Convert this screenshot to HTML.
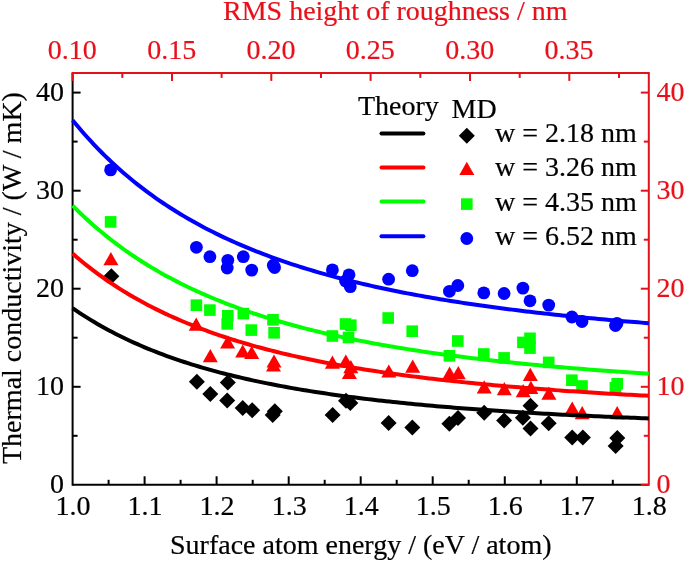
<!DOCTYPE html>
<html><head><meta charset="utf-8"><style>
html,body{margin:0;padding:0;background:#fff;}
svg{display:block;filter:blur(0.3px);}
text{font-family:"Liberation Serif",serif;font-size:28px;fill:#000;stroke:#000;stroke-width:0.2px;}
text.r{fill:#e8101a;stroke:#e8101a;}
</style></head><body>
<svg width="685" height="561" viewBox="0 0 685 561">
<rect width="685" height="561" fill="#fff"/>
<line x1="72.6" y1="484.8" x2="648.8" y2="484.8" stroke="#000" stroke-width="2"/>
<line x1="72.6" y1="72.9" x2="72.6" y2="485.8" stroke="#000" stroke-width="2"/>
<line x1="71.6" y1="72.9" x2="649.8" y2="72.9" stroke="#e3121a" stroke-width="2"/>
<line x1="648.8" y1="72.9" x2="648.8" y2="485.8" stroke="#e3121a" stroke-width="2"/>
<line x1="108.6" y1="484.8" x2="108.6" y2="479.8" stroke="#000" stroke-width="2"/>
<line x1="144.6" y1="484.8" x2="144.6" y2="476.3" stroke="#000" stroke-width="2"/>
<line x1="180.6" y1="484.8" x2="180.6" y2="479.8" stroke="#000" stroke-width="2"/>
<line x1="216.6" y1="484.8" x2="216.6" y2="476.3" stroke="#000" stroke-width="2"/>
<line x1="252.7" y1="484.8" x2="252.7" y2="479.8" stroke="#000" stroke-width="2"/>
<line x1="288.7" y1="484.8" x2="288.7" y2="476.3" stroke="#000" stroke-width="2"/>
<line x1="324.7" y1="484.8" x2="324.7" y2="479.8" stroke="#000" stroke-width="2"/>
<line x1="360.7" y1="484.8" x2="360.7" y2="476.3" stroke="#000" stroke-width="2"/>
<line x1="396.7" y1="484.8" x2="396.7" y2="479.8" stroke="#000" stroke-width="2"/>
<line x1="432.7" y1="484.8" x2="432.7" y2="476.3" stroke="#000" stroke-width="2"/>
<line x1="468.7" y1="484.8" x2="468.7" y2="479.8" stroke="#000" stroke-width="2"/>
<line x1="504.8" y1="484.8" x2="504.8" y2="476.3" stroke="#000" stroke-width="2"/>
<line x1="540.8" y1="484.8" x2="540.8" y2="479.8" stroke="#000" stroke-width="2"/>
<line x1="576.8" y1="484.8" x2="576.8" y2="476.3" stroke="#000" stroke-width="2"/>
<line x1="612.8" y1="484.8" x2="612.8" y2="479.8" stroke="#000" stroke-width="2"/>
<line x1="648.8" y1="484.8" x2="640.8" y2="484.8" stroke="#e3121a" stroke-width="2"/>
<line x1="72.6" y1="435.8" x2="77.6" y2="435.8" stroke="#000" stroke-width="2"/>
<line x1="648.8" y1="435.8" x2="643.8" y2="435.8" stroke="#e3121a" stroke-width="2"/>
<line x1="72.6" y1="386.8" x2="80.6" y2="386.8" stroke="#000" stroke-width="2"/>
<line x1="648.8" y1="386.8" x2="640.8" y2="386.8" stroke="#e3121a" stroke-width="2"/>
<line x1="72.6" y1="337.7" x2="77.6" y2="337.7" stroke="#000" stroke-width="2"/>
<line x1="648.8" y1="337.7" x2="643.8" y2="337.7" stroke="#e3121a" stroke-width="2"/>
<line x1="72.6" y1="288.7" x2="80.6" y2="288.7" stroke="#000" stroke-width="2"/>
<line x1="648.8" y1="288.7" x2="640.8" y2="288.7" stroke="#e3121a" stroke-width="2"/>
<line x1="72.6" y1="239.7" x2="77.6" y2="239.7" stroke="#000" stroke-width="2"/>
<line x1="648.8" y1="239.7" x2="643.8" y2="239.7" stroke="#e3121a" stroke-width="2"/>
<line x1="72.6" y1="190.7" x2="80.6" y2="190.7" stroke="#000" stroke-width="2"/>
<line x1="648.8" y1="190.7" x2="640.8" y2="190.7" stroke="#e3121a" stroke-width="2"/>
<line x1="72.6" y1="141.6" x2="77.6" y2="141.6" stroke="#000" stroke-width="2"/>
<line x1="648.8" y1="141.6" x2="643.8" y2="141.6" stroke="#e3121a" stroke-width="2"/>
<line x1="72.6" y1="92.6" x2="80.6" y2="92.6" stroke="#000" stroke-width="2"/>
<line x1="648.8" y1="92.6" x2="640.8" y2="92.6" stroke="#e3121a" stroke-width="2"/>
<line x1="72.6" y1="72.9" x2="72.6" y2="80.9" stroke="#e3121a" stroke-width="2"/>
<line x1="122.3" y1="72.9" x2="122.3" y2="77.9" stroke="#e3121a" stroke-width="2"/>
<line x1="172.0" y1="72.9" x2="172.0" y2="80.9" stroke="#e3121a" stroke-width="2"/>
<line x1="221.6" y1="72.9" x2="221.6" y2="77.9" stroke="#e3121a" stroke-width="2"/>
<line x1="271.3" y1="72.9" x2="271.3" y2="80.9" stroke="#e3121a" stroke-width="2"/>
<line x1="321.0" y1="72.9" x2="321.0" y2="77.9" stroke="#e3121a" stroke-width="2"/>
<line x1="370.6" y1="72.9" x2="370.6" y2="80.9" stroke="#e3121a" stroke-width="2"/>
<line x1="420.3" y1="72.9" x2="420.3" y2="77.9" stroke="#e3121a" stroke-width="2"/>
<line x1="470.0" y1="72.9" x2="470.0" y2="80.9" stroke="#e3121a" stroke-width="2"/>
<line x1="519.7" y1="72.9" x2="519.7" y2="77.9" stroke="#e3121a" stroke-width="2"/>
<line x1="569.3" y1="72.9" x2="569.3" y2="80.9" stroke="#e3121a" stroke-width="2"/>
<line x1="619.0" y1="72.9" x2="619.0" y2="77.9" stroke="#e3121a" stroke-width="2"/>
<path d="M111.4 268.3L119.4 276.3L111.4 284.3L103.4 276.3Z" fill="#000000"/>
<path d="M196.9 373.7L204.9 381.7L196.9 389.7L188.9 381.7Z" fill="#000000"/>
<path d="M210.3 385.9L218.3 393.9L210.3 401.9L202.3 393.9Z" fill="#000000"/>
<path d="M227.8 374.6L235.8 382.6L227.8 390.6L219.8 382.6Z" fill="#000000"/>
<path d="M227.2 392.6L235.2 400.6L227.2 408.6L219.2 400.6Z" fill="#000000"/>
<path d="M242.7 400.1L250.7 408.1L242.7 416.1L234.7 408.1Z" fill="#000000"/>
<path d="M252.2 402.3L260.2 410.3L252.2 418.3L244.2 410.3Z" fill="#000000"/>
<path d="M274.8 403.3L282.8 411.3L274.8 419.3L266.8 411.3Z" fill="#000000"/>
<path d="M272.7 406.9L280.7 414.9L272.7 422.9L264.7 414.9Z" fill="#000000"/>
<path d="M332.6 407.1L340.6 415.1L332.6 423.1L324.6 415.1Z" fill="#000000"/>
<path d="M346.0 392.7L354.0 400.7L346.0 408.7L338.0 400.7Z" fill="#000000"/>
<path d="M350.3 395.0L358.3 403.0L350.3 411.0L342.3 403.0Z" fill="#000000"/>
<path d="M388.6 414.9L396.6 422.9L388.6 430.9L380.6 422.9Z" fill="#000000"/>
<path d="M412.3 419.4L420.3 427.4L412.3 435.4L404.3 427.4Z" fill="#000000"/>
<path d="M449.4 415.8L457.4 423.8L449.4 431.8L441.4 423.8Z" fill="#000000"/>
<path d="M458.0 410.1L466.0 418.1L458.0 426.1L450.0 418.1Z" fill="#000000"/>
<path d="M484.2 404.8L492.2 412.8L484.2 420.8L476.2 412.8Z" fill="#000000"/>
<path d="M504.1 412.4L512.1 420.4L504.1 428.4L496.1 420.4Z" fill="#000000"/>
<path d="M522.9 409.8L530.9 417.8L522.9 425.8L514.9 417.8Z" fill="#000000"/>
<path d="M530.5 397.7L538.5 405.7L530.5 413.7L522.5 405.7Z" fill="#000000"/>
<path d="M530.5 420.5L538.5 428.5L530.5 436.5L522.5 428.5Z" fill="#000000"/>
<path d="M548.7 415.3L556.7 423.3L548.7 431.3L540.7 423.3Z" fill="#000000"/>
<path d="M572.2 429.4L580.2 437.4L572.2 445.4L564.2 437.4Z" fill="#000000"/>
<path d="M582.9 429.4L590.9 437.4L582.9 445.4L574.9 437.4Z" fill="#000000"/>
<path d="M617.3 429.9L625.3 437.9L617.3 445.9L609.3 437.9Z" fill="#000000"/>
<path d="M615.6 438.0L623.6 446.0L615.6 454.0L607.6 446.0Z" fill="#000000"/>
<path d="M110.9 252.1L118.4 265.3L103.4 265.3Z" fill="#ff0000"/>
<path d="M196.2 317.6L203.7 330.8L188.7 330.8Z" fill="#ff0000"/>
<path d="M210.3 349.0L217.8 362.2L202.8 362.2Z" fill="#ff0000"/>
<path d="M227.6 335.4L235.1 348.6L220.1 348.6Z" fill="#ff0000"/>
<path d="M242.7 344.4L250.2 357.6L235.2 357.6Z" fill="#ff0000"/>
<path d="M251.7 345.8L259.2 359.0L244.2 359.0Z" fill="#ff0000"/>
<path d="M274.0 354.4L281.5 367.6L266.5 367.6Z" fill="#ff0000"/>
<path d="M273.5 358.4L281.0 371.6L266.0 371.6Z" fill="#ff0000"/>
<path d="M332.4 355.6L339.9 368.8L324.9 368.8Z" fill="#ff0000"/>
<path d="M345.8 354.4L353.3 367.6L338.3 367.6Z" fill="#ff0000"/>
<path d="M350.8 360.1L358.3 373.3L343.3 373.3Z" fill="#ff0000"/>
<path d="M349.4 365.8L356.9 379.0L341.9 379.0Z" fill="#ff0000"/>
<path d="M388.8 364.4L396.3 377.6L381.3 377.6Z" fill="#ff0000"/>
<path d="M412.7 359.6L420.2 372.8L405.2 372.8Z" fill="#ff0000"/>
<path d="M449.6 366.5L457.1 379.7L442.1 379.7Z" fill="#ff0000"/>
<path d="M458.3 366.1L465.8 379.3L450.8 379.3Z" fill="#ff0000"/>
<path d="M484.2 380.2L491.7 393.4L476.7 393.4Z" fill="#ff0000"/>
<path d="M504.3 382.0L511.8 395.2L496.8 395.2Z" fill="#ff0000"/>
<path d="M523.2 384.0L530.7 397.2L515.7 397.2Z" fill="#ff0000"/>
<path d="M530.3 367.7L537.8 380.9L522.8 380.9Z" fill="#ff0000"/>
<path d="M530.9 380.7L538.4 393.9L523.4 393.9Z" fill="#ff0000"/>
<path d="M548.9 386.6L556.4 399.8L541.4 399.8Z" fill="#ff0000"/>
<path d="M572.2 401.5L579.7 414.7L564.7 414.7Z" fill="#ff0000"/>
<path d="M582.2 406.0L589.7 419.2L574.7 419.2Z" fill="#ff0000"/>
<path d="M617.2 406.0L624.7 419.2L609.7 419.2Z" fill="#ff0000"/>
<rect x="104.8" y="216.1" width="11.6" height="11.6" fill="#00ff00"/>
<rect x="190.6" y="299.4" width="11.6" height="11.6" fill="#00ff00"/>
<rect x="204.1" y="304.3" width="11.6" height="11.6" fill="#00ff00"/>
<rect x="222.0" y="310.0" width="11.6" height="11.6" fill="#00ff00"/>
<rect x="221.4" y="318.1" width="11.6" height="11.6" fill="#00ff00"/>
<rect x="237.5" y="307.8" width="11.6" height="11.6" fill="#00ff00"/>
<rect x="245.5" y="324.3" width="11.6" height="11.6" fill="#00ff00"/>
<rect x="267.2" y="314.0" width="11.6" height="11.6" fill="#00ff00"/>
<rect x="268.3" y="327.0" width="11.6" height="11.6" fill="#00ff00"/>
<rect x="326.6" y="330.2" width="11.6" height="11.6" fill="#00ff00"/>
<rect x="339.7" y="318.2" width="11.6" height="11.6" fill="#00ff00"/>
<rect x="345.0" y="319.4" width="11.6" height="11.6" fill="#00ff00"/>
<rect x="342.7" y="331.7" width="11.6" height="11.6" fill="#00ff00"/>
<rect x="382.4" y="312.2" width="11.6" height="11.6" fill="#00ff00"/>
<rect x="406.4" y="325.4" width="11.6" height="11.6" fill="#00ff00"/>
<rect x="443.6" y="350.0" width="11.6" height="11.6" fill="#00ff00"/>
<rect x="452.0" y="335.2" width="11.6" height="11.6" fill="#00ff00"/>
<rect x="478.0" y="348.2" width="11.6" height="11.6" fill="#00ff00"/>
<rect x="498.3" y="352.1" width="11.6" height="11.6" fill="#00ff00"/>
<rect x="517.1" y="336.6" width="11.6" height="11.6" fill="#00ff00"/>
<rect x="524.2" y="332.5" width="11.6" height="11.6" fill="#00ff00"/>
<rect x="524.2" y="342.3" width="11.6" height="11.6" fill="#00ff00"/>
<rect x="542.9" y="356.6" width="11.6" height="11.6" fill="#00ff00"/>
<rect x="566.1" y="374.4" width="11.6" height="11.6" fill="#00ff00"/>
<rect x="576.2" y="380.2" width="11.6" height="11.6" fill="#00ff00"/>
<rect x="611.4" y="378.0" width="11.6" height="11.6" fill="#00ff00"/>
<rect x="609.6" y="382.0" width="11.6" height="11.6" fill="#00ff00"/>
<circle cx="110.6" cy="169.9" r="6.4" fill="#0000ff"/>
<circle cx="196.4" cy="247.3" r="6.4" fill="#0000ff"/>
<circle cx="209.9" cy="256.7" r="6.4" fill="#0000ff"/>
<circle cx="227.8" cy="260.3" r="6.4" fill="#0000ff"/>
<circle cx="227.2" cy="268.0" r="6.4" fill="#0000ff"/>
<circle cx="243.3" cy="256.7" r="6.4" fill="#0000ff"/>
<circle cx="251.7" cy="270.1" r="6.4" fill="#0000ff"/>
<circle cx="273.3" cy="265.2" r="6.4" fill="#0000ff"/>
<circle cx="274.6" cy="267.5" r="6.4" fill="#0000ff"/>
<circle cx="332.4" cy="269.9" r="6.4" fill="#0000ff"/>
<circle cx="349.0" cy="274.8" r="6.4" fill="#0000ff"/>
<circle cx="345.5" cy="281.0" r="6.4" fill="#0000ff"/>
<circle cx="350.3" cy="286.7" r="6.4" fill="#0000ff"/>
<circle cx="388.6" cy="279.2" r="6.4" fill="#0000ff"/>
<circle cx="412.3" cy="270.7" r="6.4" fill="#0000ff"/>
<circle cx="449.4" cy="291.3" r="6.4" fill="#0000ff"/>
<circle cx="457.8" cy="285.5" r="6.4" fill="#0000ff"/>
<circle cx="483.8" cy="292.9" r="6.4" fill="#0000ff"/>
<circle cx="504.1" cy="293.5" r="6.4" fill="#0000ff"/>
<circle cx="522.9" cy="288.1" r="6.4" fill="#0000ff"/>
<circle cx="530.0" cy="300.8" r="6.4" fill="#0000ff"/>
<circle cx="548.7" cy="305.1" r="6.4" fill="#0000ff"/>
<circle cx="571.9" cy="317.0" r="6.4" fill="#0000ff"/>
<circle cx="582.0" cy="321.5" r="6.4" fill="#0000ff"/>
<circle cx="617.0" cy="323.3" r="6.4" fill="#0000ff"/>
<circle cx="615.5" cy="325.5" r="6.4" fill="#0000ff"/>
<path d="M72.60 120.15 L76.20 124.53 L79.80 128.80 L83.40 132.96 L87.00 137.01 L90.61 140.96 L94.21 144.82 L97.81 148.57 L101.41 152.24 L105.01 155.81 L108.61 159.30 L112.21 162.70 L115.81 166.02 L119.42 169.26 L123.02 172.42 L126.62 175.51 L130.22 178.53 L133.82 181.48 L137.42 184.36 L141.02 187.17 L144.62 189.92 L148.23 192.60 L151.83 195.23 L155.43 197.80 L159.03 200.30 L162.63 202.76 L166.23 205.16 L169.83 207.51 L173.43 209.81 L177.04 212.05 L180.64 214.25 L184.24 216.41 L187.84 218.51 L191.44 220.58 L195.04 222.60 L198.64 224.57 L202.25 226.51 L205.85 228.41 L209.45 230.27 L213.05 232.09 L216.65 233.87 L220.25 235.62 L223.85 237.33 L227.45 239.01 L231.05 240.66 L234.66 242.27 L238.26 243.85 L241.86 245.40 L245.46 246.93 L249.06 248.42 L252.66 249.88 L256.26 251.32 L259.87 252.73 L263.47 254.11 L267.07 255.47 L270.67 256.80 L274.27 258.11 L277.87 259.39 L281.47 260.65 L285.07 261.88 L288.68 263.10 L292.28 264.29 L295.88 265.46 L299.48 266.61 L303.08 267.74 L306.68 268.85 L310.28 269.94 L313.88 271.01 L317.48 272.06 L321.09 273.10 L324.69 274.11 L328.29 275.11 L331.89 276.10 L335.49 277.06 L339.09 278.01 L342.69 278.94 L346.29 279.86 L349.90 280.76 L353.50 281.65 L357.10 282.52 L360.70 283.38 L364.30 284.23 L367.90 285.06 L371.50 285.87 L375.10 286.68 L378.71 287.47 L382.31 288.25 L385.91 289.01 L389.51 289.77 L393.11 290.51 L396.71 291.24 L400.31 291.96 L403.91 292.67 L407.52 293.36 L411.12 294.05 L414.72 294.73 L418.32 295.39 L421.92 296.05 L425.52 296.69 L429.12 297.33 L432.72 297.95 L436.33 298.57 L439.93 299.18 L443.53 299.78 L447.13 300.36 L450.73 300.95 L454.33 301.52 L457.93 302.08 L461.53 302.64 L465.14 303.19 L468.74 303.73 L472.34 304.26 L475.94 304.78 L479.54 305.30 L483.14 305.81 L486.74 306.31 L490.34 306.81 L493.95 307.30 L497.55 307.78 L501.15 308.25 L504.75 308.72 L508.35 309.19 L511.95 309.64 L515.55 310.09 L519.15 310.53 L522.76 310.97 L526.36 311.40 L529.96 311.83 L533.56 312.25 L537.16 312.66 L540.76 313.07 L544.36 313.48 L547.96 313.87 L551.57 314.27 L555.17 314.66 L558.77 315.04 L562.37 315.42 L565.97 315.79 L569.57 316.16 L573.17 316.52 L576.77 316.88 L580.38 317.23 L583.98 317.58 L587.58 317.93 L591.18 318.27 L594.78 318.60 L598.38 318.94 L601.98 319.27 L605.58 319.59 L609.19 319.91 L612.79 320.23 L616.39 320.54 L619.99 320.85 L623.59 321.15 L627.19 321.45 L630.79 321.75 L634.39 322.04 L638.00 322.33 L641.60 322.62 L645.20 322.90 L648.80 323.18" fill="none" stroke="#0000ff" stroke-width="4" stroke-linejoin="round"/>
<path d="M72.60 205.58 L76.20 209.19 L79.80 212.71 L83.40 216.14 L87.00 219.48 L90.61 222.74 L94.21 225.92 L97.81 229.02 L101.41 232.05 L105.01 235.00 L108.61 237.88 L112.21 240.70 L115.81 243.44 L119.42 246.13 L123.02 248.75 L126.62 251.30 L130.22 253.80 L133.82 256.24 L137.42 258.63 L141.02 260.96 L144.62 263.24 L148.23 265.47 L151.83 267.65 L155.43 269.77 L159.03 271.86 L162.63 273.89 L166.23 275.89 L169.83 277.84 L173.43 279.74 L177.04 281.61 L180.64 283.44 L184.24 285.23 L187.84 286.98 L191.44 288.69 L195.04 290.37 L198.64 292.01 L202.25 293.62 L205.85 295.20 L209.45 296.74 L213.05 298.26 L216.65 299.74 L220.25 301.19 L223.85 302.62 L227.45 304.01 L231.05 305.38 L234.66 306.72 L238.26 308.04 L241.86 309.33 L245.46 310.59 L249.06 311.84 L252.66 313.05 L256.26 314.25 L259.87 315.42 L263.47 316.57 L267.07 317.70 L270.67 318.80 L274.27 319.89 L277.87 320.96 L281.47 322.00 L285.07 323.03 L288.68 324.04 L292.28 325.03 L295.88 326.00 L299.48 326.96 L303.08 327.90 L306.68 328.82 L310.28 329.72 L313.88 330.61 L317.48 331.49 L321.09 332.35 L324.69 333.19 L328.29 334.02 L331.89 334.83 L335.49 335.64 L339.09 336.42 L342.69 337.20 L346.29 337.96 L349.90 338.71 L353.50 339.44 L357.10 340.17 L360.70 340.88 L364.30 341.58 L367.90 342.27 L371.50 342.94 L375.10 343.61 L378.71 344.27 L382.31 344.91 L385.91 345.54 L389.51 346.17 L393.11 346.78 L396.71 347.39 L400.31 347.98 L403.91 348.57 L407.52 349.15 L411.12 349.71 L414.72 350.27 L418.32 350.82 L421.92 351.36 L425.52 351.90 L429.12 352.42 L432.72 352.94 L436.33 353.45 L439.93 353.95 L443.53 354.45 L447.13 354.93 L450.73 355.41 L454.33 355.88 L457.93 356.35 L461.53 356.81 L465.14 357.26 L468.74 357.71 L472.34 358.14 L475.94 358.58 L479.54 359.00 L483.14 359.42 L486.74 359.84 L490.34 360.25 L493.95 360.65 L497.55 361.05 L501.15 361.44 L504.75 361.82 L508.35 362.20 L511.95 362.58 L515.55 362.95 L519.15 363.31 L522.76 363.67 L526.36 364.03 L529.96 364.37 L533.56 364.72 L537.16 365.06 L540.76 365.40 L544.36 365.73 L547.96 366.05 L551.57 366.38 L555.17 366.69 L558.77 367.01 L562.37 367.32 L565.97 367.62 L569.57 367.92 L573.17 368.22 L576.77 368.52 L580.38 368.81 L583.98 369.09 L587.58 369.37 L591.18 369.65 L594.78 369.93 L598.38 370.20 L601.98 370.47 L605.58 370.73 L609.19 370.99 L612.79 371.25 L616.39 371.51 L619.99 371.76 L623.59 372.01 L627.19 372.25 L630.79 372.49 L634.39 372.73 L638.00 372.97 L641.60 373.20 L645.20 373.43 L648.80 373.66" fill="none" stroke="#00ff00" stroke-width="4" stroke-linejoin="round"/>
<path d="M72.60 253.51 L76.20 256.65 L79.80 259.70 L83.40 262.68 L87.00 265.58 L90.61 268.40 L94.21 271.16 L97.81 273.84 L101.41 276.45 L105.01 279.00 L108.61 281.49 L112.21 283.92 L115.81 286.28 L119.42 288.59 L123.02 290.84 L126.62 293.04 L130.22 295.19 L133.82 297.28 L137.42 299.33 L141.02 301.32 L144.62 303.28 L148.23 305.18 L151.83 307.04 L155.43 308.86 L159.03 310.64 L162.63 312.38 L166.23 314.08 L169.83 315.74 L173.43 317.37 L177.04 318.95 L180.64 320.51 L184.24 322.03 L187.84 323.52 L191.44 324.97 L195.04 326.40 L198.64 327.79 L202.25 329.15 L205.85 330.49 L209.45 331.80 L213.05 333.08 L216.65 334.33 L220.25 335.56 L223.85 336.76 L227.45 337.94 L231.05 339.10 L234.66 340.23 L238.26 341.34 L241.86 342.43 L245.46 343.49 L249.06 344.54 L252.66 345.56 L256.26 346.56 L259.87 347.55 L263.47 348.51 L267.07 349.46 L270.67 350.39 L274.27 351.30 L277.87 352.20 L281.47 353.07 L285.07 353.93 L288.68 354.78 L292.28 355.61 L295.88 356.42 L299.48 357.22 L303.08 358.01 L306.68 358.78 L310.28 359.53 L313.88 360.28 L317.48 361.01 L321.09 361.72 L324.69 362.43 L328.29 363.12 L331.89 363.80 L335.49 364.47 L339.09 365.12 L342.69 365.77 L346.29 366.40 L349.90 367.02 L353.50 367.63 L357.10 368.24 L360.70 368.83 L364.30 369.41 L367.90 369.98 L371.50 370.54 L375.10 371.09 L378.71 371.64 L382.31 372.17 L385.91 372.70 L389.51 373.22 L393.11 373.73 L396.71 374.23 L400.31 374.72 L403.91 375.20 L407.52 375.68 L411.12 376.15 L414.72 376.61 L418.32 377.07 L421.92 377.51 L425.52 377.96 L429.12 378.39 L432.72 378.82 L436.33 379.24 L439.93 379.65 L443.53 380.06 L447.13 380.46 L450.73 380.86 L454.33 381.24 L457.93 381.63 L461.53 382.01 L465.14 382.38 L468.74 382.74 L472.34 383.11 L475.94 383.46 L479.54 383.81 L483.14 384.16 L486.74 384.50 L490.34 384.83 L493.95 385.16 L497.55 385.49 L501.15 385.81 L504.75 386.13 L508.35 386.44 L511.95 386.75 L515.55 387.05 L519.15 387.35 L522.76 387.64 L526.36 387.94 L529.96 388.22 L533.56 388.51 L537.16 388.78 L540.76 389.06 L544.36 389.33 L547.96 389.60 L551.57 389.86 L555.17 390.12 L558.77 390.38 L562.37 390.63 L565.97 390.88 L569.57 391.13 L573.17 391.37 L576.77 391.61 L580.38 391.85 L583.98 392.08 L587.58 392.31 L591.18 392.54 L594.78 392.76 L598.38 392.99 L601.98 393.21 L605.58 393.42 L609.19 393.63 L612.79 393.85 L616.39 394.05 L619.99 394.26 L623.59 394.46 L627.19 394.66 L630.79 394.86 L634.39 395.05 L638.00 395.25 L641.60 395.44 L645.20 395.62 L648.80 395.81" fill="none" stroke="#ff0000" stroke-width="4" stroke-linejoin="round"/>
<path d="M72.60 308.16 L76.20 310.63 L79.80 313.04 L83.40 315.38 L87.00 317.66 L90.61 319.88 L94.21 322.05 L97.81 324.16 L101.41 326.22 L105.01 328.23 L108.61 330.18 L112.21 332.09 L115.81 333.95 L119.42 335.76 L123.02 337.54 L126.62 339.26 L130.22 340.95 L133.82 342.59 L137.42 344.20 L141.02 345.77 L144.62 347.30 L148.23 348.80 L151.83 350.26 L155.43 351.69 L159.03 353.08 L162.63 354.44 L166.23 355.77 L169.83 357.08 L173.43 358.35 L177.04 359.59 L180.64 360.81 L184.24 362.00 L187.84 363.16 L191.44 364.30 L195.04 365.41 L198.64 366.50 L202.25 367.56 L205.85 368.61 L209.45 369.63 L213.05 370.62 L216.65 371.60 L220.25 372.56 L223.85 373.50 L227.45 374.41 L231.05 375.31 L234.66 376.19 L238.26 377.05 L241.86 377.90 L245.46 378.72 L249.06 379.54 L252.66 380.33 L256.26 381.11 L259.87 381.87 L263.47 382.62 L267.07 383.35 L270.67 384.07 L274.27 384.78 L277.87 385.47 L281.47 386.15 L285.07 386.81 L288.68 387.46 L292.28 388.10 L295.88 388.73 L299.48 389.35 L303.08 389.95 L306.68 390.54 L310.28 391.12 L313.88 391.70 L317.48 392.26 L321.09 392.81 L324.69 393.35 L328.29 393.88 L331.89 394.40 L335.49 394.91 L339.09 395.41 L342.69 395.91 L346.29 396.39 L349.90 396.87 L353.50 397.33 L357.10 397.79 L360.70 398.24 L364.30 398.69 L367.90 399.12 L371.50 399.55 L375.10 399.97 L378.71 400.39 L382.31 400.79 L385.91 401.19 L389.51 401.58 L393.11 401.97 L396.71 402.35 L400.31 402.72 L403.91 403.09 L407.52 403.45 L411.12 403.81 L414.72 404.16 L418.32 404.50 L421.92 404.84 L425.52 405.17 L429.12 405.50 L432.72 405.82 L436.33 406.14 L439.93 406.45 L443.53 406.76 L447.13 407.06 L450.73 407.36 L454.33 407.65 L457.93 407.94 L461.53 408.22 L465.14 408.50 L468.74 408.77 L472.34 409.04 L475.94 409.31 L479.54 409.57 L483.14 409.83 L486.74 410.08 L490.34 410.33 L493.95 410.58 L497.55 410.82 L501.15 411.06 L504.75 411.30 L508.35 411.53 L511.95 411.76 L515.55 411.98 L519.15 412.21 L522.76 412.43 L526.36 412.64 L529.96 412.85 L533.56 413.06 L537.16 413.27 L540.76 413.47 L544.36 413.67 L547.96 413.87 L551.57 414.07 L555.17 414.26 L558.77 414.45 L562.37 414.63 L565.97 414.82 L569.57 415.00 L573.17 415.18 L576.77 415.35 L580.38 415.53 L583.98 415.70 L587.58 415.87 L591.18 416.04 L594.78 416.20 L598.38 416.36 L601.98 416.52 L605.58 416.68 L609.19 416.84 L612.79 416.99 L616.39 417.14 L619.99 417.29 L623.59 417.44 L627.19 417.58 L630.79 417.73 L634.39 417.87 L638.00 418.01 L641.60 418.15 L645.20 418.28 L648.80 418.42" fill="none" stroke="#000000" stroke-width="4" stroke-linejoin="round"/>
<text x="73.1" y="514.9" text-anchor="middle">1.0</text>
<text x="145.1" y="514.9" text-anchor="middle">1.1</text>
<text x="217.1" y="514.9" text-anchor="middle">1.2</text>
<text x="289.2" y="514.9" text-anchor="middle">1.3</text>
<text x="361.2" y="514.9" text-anchor="middle">1.4</text>
<text x="433.2" y="514.9" text-anchor="middle">1.5</text>
<text x="505.2" y="514.9" text-anchor="middle">1.6</text>
<text x="577.3" y="514.9" text-anchor="middle">1.7</text>
<text x="649.3" y="514.9" text-anchor="middle">1.8</text>
<text x="64" y="493.0" text-anchor="end">0</text>
<text x="656.5" y="493.0" class="r">0</text>
<text x="64" y="394.9" text-anchor="end">10</text>
<text x="656.5" y="394.9" class="r">10</text>
<text x="64" y="296.9" text-anchor="end">20</text>
<text x="656.5" y="296.9" class="r">20</text>
<text x="64" y="198.9" text-anchor="end">30</text>
<text x="656.5" y="198.9" class="r">30</text>
<text x="64" y="100.8" text-anchor="end">40</text>
<text x="656.5" y="100.8" class="r">40</text>
<text x="72.3" y="59" text-anchor="middle" class="r">0.10</text>
<text x="171.7" y="59" text-anchor="middle" class="r">0.15</text>
<text x="271.0" y="59" text-anchor="middle" class="r">0.20</text>
<text x="370.3" y="59" text-anchor="middle" class="r">0.25</text>
<text x="469.7" y="59" text-anchor="middle" class="r">0.30</text>
<text x="569.0" y="59" text-anchor="middle" class="r">0.35</text>
<text x="223" y="20.3" class="r" font-size="27.7">RMS height of roughness / nm</text>
<text x="170" y="553.5">Surface atom energy / (eV / atom)</text>
<text transform="translate(20.6 464) rotate(-90)">Thermal conductivity / (W / mK)</text>
<text x="358" y="114.9">Theory</text>
<text x="451.5" y="118.4">MD</text>
<line x1="381.5" y1="133.4" x2="423.4" y2="133.4" stroke="#000000" stroke-width="4" stroke-linecap="round"/>
<path d="M466.8 127.7L474.8 135.7L466.8 143.7L458.8 135.7Z" fill="#000000"/>
<text x="495" y="142.2">w = 2.18 nm</text>
<line x1="381.5" y1="167.6" x2="423.4" y2="167.6" stroke="#ff0000" stroke-width="4" stroke-linecap="round"/>
<path d="M466.8 161.7L474.3 174.9L459.3 174.9Z" fill="#ff0000"/>
<text x="495" y="176.4">w = 3.26 nm</text>
<line x1="381.5" y1="201.6" x2="423.4" y2="201.6" stroke="#00ff00" stroke-width="4" stroke-linecap="round"/>
<rect x="461.0" y="198.3" width="11.6" height="11.6" fill="#00ff00"/>
<text x="495" y="210.5">w = 4.35 nm</text>
<line x1="381.5" y1="236.3" x2="423.4" y2="236.3" stroke="#0000ff" stroke-width="4" stroke-linecap="round"/>
<circle cx="466.8" cy="238.5" r="6.4" fill="#0000ff"/>
<text x="495" y="244.7">w = 6.52 nm</text>
</svg>
</body></html>
